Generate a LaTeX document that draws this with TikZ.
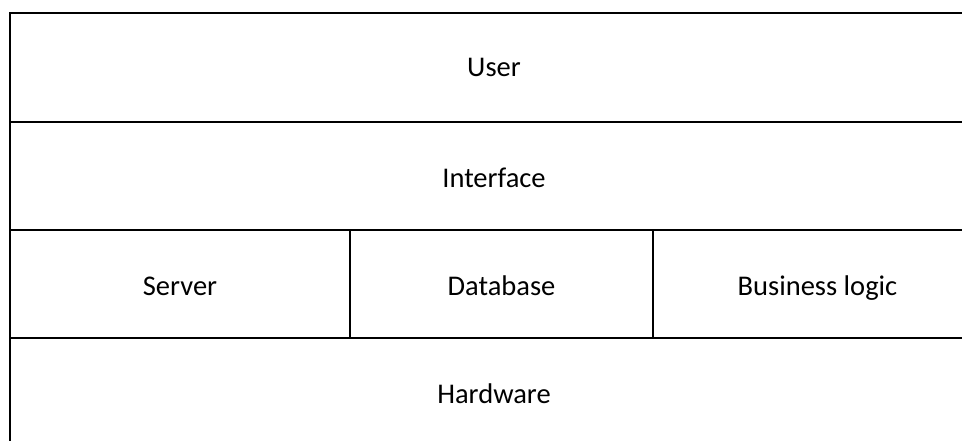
\documentclass[tikz,border=0pt]{standalone}
\usepackage{fontspec}
\setmainfont{Carlito}
\tikzset{
  cell/.style={draw=black, line width=2pt, rectangle, inner sep=0pt},
  lbl/.style={inner sep=0pt, font=\fontsize{28.5}{34}\selectfont,
    text height=18.3pt, text depth=0pt}
}
\begin{document}
\begin{tikzpicture}[x=1pt, y=-1pt]
\useasboundingbox (0,0) rectangle (962,441);
\clip (0,0) rectangle (962,441);
% layered stack: two full-width rows, a split row, and a base row
\node[cell, minimum width=968pt, minimum height=109pt] (user) at (494,67.5) {};
\node[cell, minimum width=968pt, minimum height=108pt] (iface) at (494,176) {};
\node[cell, minimum width=340pt, minimum height=108pt] (server) at (180,284) {};
\node[cell, minimum width=303pt, minimum height=108pt] (db) at (501.5,284) {};
\node[cell, minimum width=325pt, minimum height=108pt] (logic) at (815.5,284) {};
\node[cell, minimum width=968pt, minimum height=108pt] (hw) at (494,392) {};
% captions, set slightly below each cell's centre
\node[lbl] (tuser) at (user.center) {User};
\node[lbl] (tiface) at ([yshift=-2pt]iface.center) {Interface};
\node[lbl] (tserver) at ([yshift=-2pt]server.center) {Server};
\node[lbl] (tdb) at ([yshift=-2pt]db.center) {Database};
\node[lbl] (tlogic) at ([xshift=2pt,yshift=-2pt]logic.center) {Business logic};
\node[lbl] (thw) at ([yshift=-2pt]hw.center) {Hardware};
\end{tikzpicture}
\end{document}
